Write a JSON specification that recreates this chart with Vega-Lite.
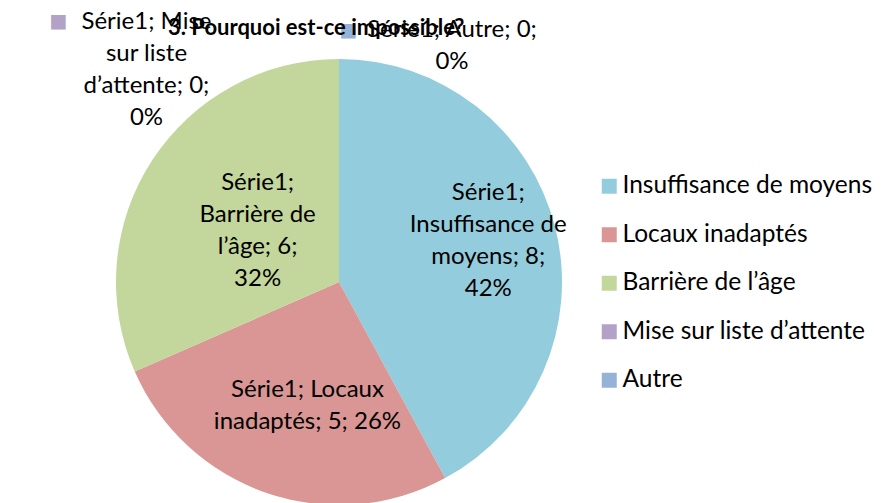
{
  "$schema": "https://vega.github.io/schema/vega-lite/v6.json",
  "width": 885,
  "height": 503,
  "autosize": "none",
  "padding": 0,
  "background": "white",
  "config": {"view": {"stroke": null}, "font": "Lato"},
  "title": {"text": "3. Pourquoi est-ce impossible?", "anchor": "start", "frame": "group", "dx": 168, "offset": -57, "baseline": "alphabetic", "font": "Lato", "fontSize": 22, "fontWeight": "bold", "color": "black"},
  "data": {"values": [
    {"cat": "Insuffisance de moyens", "n": 8, "order": 1, "label": "Série1;\nInsuffisance de\nmoyens; 8;\n42%"},
    {"cat": "Locaux inadaptés", "n": 5, "order": 2, "label": "Série1; Locaux\ninadaptés; 5; 26%"},
    {"cat": "Barrière de l’âge", "n": 6, "order": 3, "label": "Série1;\nBarrière de\nl’âge; 6;\n32%"},
    {"cat": "Mise sur liste d’attente", "n": 0, "order": 4, "label": "Série1; Mise\nsur liste\nd’attente; 0;\n0%"},
    {"cat": "Autre", "n": 0, "order": 5, "label": "Série1; Autre; 0;\n0%"}
  ]},
  "encoding": {
    "theta": {"field": "n", "type": "quantitative", "stack": true},
    "order": {"field": "order", "type": "quantitative", "sort": "ascending"}
  },
  "layer": [
    {
      "mark": {"type": "arc", "x": 339, "y": 282, "outerRadius": 223, "stroke": null},
      "encoding": {
        "color": {"field": "cat", "type": "nominal",
          "scale": {"domain": ["Insuffisance de moyens", "Locaux inadaptés", "Barrière de l’âge", "Mise sur liste d’attente", "Autre"],
                    "range": ["#93CDDD", "#D99694", "#C3D69B", "#B3A2C7", "#95B3D7"]},
          "legend": {"title": null, "orient": "none", "legendX": 597, "legendY": 174, "labelFont": "Lato", "labelFontSize": 24.5, "labelColor": "black", "labelOffset": 1, "symbolType": "square", "symbolSize": 225, "symbolStrokeWidth": 0, "rowPadding": 23.5, "labelLimit": 400}
        }
      }
    },
    {
      "mark": {"type": "text", "x": 339, "y": 282, "radius": 155, "dx": -1, "dy": -51, "fontSize": 24, "lineHeight": 32, "lineBreak": "\n", "align": "center", "baseline": "middle", "color": "black"},
      "encoding": {"text": {"condition": {"test": "datum.cat === 'Insuffisance de moyens'", "field": "label"}, "value": ""}}
    },
    {
      "mark": {"type": "text", "x": 339, "y": 282, "radius": 131, "dx": 11, "dy": -16, "fontSize": 24, "lineHeight": 32, "lineBreak": "\n", "align": "center", "baseline": "middle", "color": "black"},
      "encoding": {"text": {"condition": {"test": "datum.cat === 'Locaux inadaptés'", "field": "label"}, "value": ""}}
    },
    {
      "mark": {"type": "text", "x": 339, "y": 282, "radius": 96, "dx": -1, "dy": -46.5, "fontSize": 24, "lineHeight": 32, "lineBreak": "\n", "align": "center", "baseline": "middle", "color": "black"},
      "encoding": {"text": {"condition": {"test": "datum.cat === 'Barrière de l’âge'", "field": "label"}, "value": ""}}
    },
    {
      "mark": {"type": "text", "x": 339, "y": 282, "radius": 222, "dx": -192.5, "dy": -38, "fontSize": 24, "lineHeight": 32, "lineBreak": "\n", "align": "center", "baseline": "middle", "color": "black"},
      "encoding": {"text": {"condition": {"test": "datum.cat === 'Mise sur liste d’attente'", "field": "label"}, "value": ""}}
    },
    {
      "mark": {"type": "text", "x": 339, "y": 282, "radius": 222, "dx": 113, "dy": -30, "fontSize": 24, "lineHeight": 32, "lineBreak": "\n", "align": "center", "baseline": "middle", "color": "black"},
      "encoding": {"text": {"condition": {"test": "datum.cat === 'Autre'", "field": "label"}, "value": ""}}
    },
    {
      "mark": {"type": "text", "x": 339, "y": 282, "radius": 222, "dx": -280.5, "dy": -39.5, "font": "DejaVu Sans", "fontSize": 19, "align": "center", "baseline": "middle"},
      "encoding": {
        "text": {"condition": {"test": "datum.cat === 'Mise sur liste d’attente'", "value": "■"}, "value": ""},
        "color": {"field": "cat", "type": "nominal", "legend": null}
      }
    },
    {
      "mark": {"type": "text", "x": 339, "y": 282, "radius": 222, "dx": 9.5, "dy": -30, "font": "DejaVu Sans", "fontSize": 19, "align": "center", "baseline": "middle"},
      "encoding": {
        "text": {"condition": {"test": "datum.cat === 'Autre'", "value": "■"}, "value": ""},
        "color": {"field": "cat", "type": "nominal", "legend": null}
      }
    }
  ]
}
